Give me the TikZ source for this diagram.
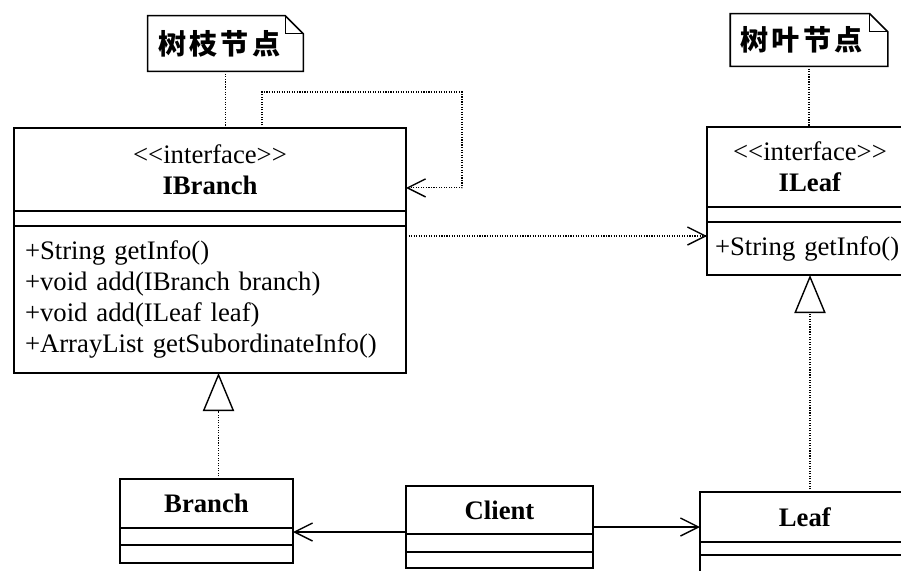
\documentclass[tikz,border=0pt]{standalone}
\usepackage{fontspec}
\setmainfont{Liberation Serif}
\newfontfamily\cjk[LetterSpace=12]{Noto Sans CJK SC}
\usetikzlibrary{
  arrows.meta,
  positioning,
  calc
}

\begin{document}
\begin{tikzpicture}[
  every node/.style={font=\fontsize{19}{22}\selectfont},
  umlhead/.style={draw, line width=1.1pt, outer sep=0pt, inner sep=0pt, align=center},
  slot/.style={draw, line width=1.1pt, outer sep=0pt, inner sep=0pt},
  methods/.style={draw, line width=1.1pt, outer sep=0pt, inner xsep=0.275cm,
                  inner ysep=0pt, align=left},
  memo/.style={inner xsep=0.25cm, align=left, font=\cjk\bfseries\fontsize{20}{22}\selectfont},
  dep/.style={densely dotted, line width=0.8pt},
  assoc/.style={line width=1pt},
  barb/.style={-{Straight Barb[length=0.45cm, width=0.45cm, line width=1pt]}},
  real/.style={densely dotted, line width=0.8pt,
               -{Triangle[length=0.95cm, width=0.78cm, fill=white, line width=1pt]}}
]

\useasboundingbox (0,0) rectangle (22.525,-14.25);
\clip (0,0) rectangle (22.525,-14.25);

% Notes
\node[memo, text width=3.375cm, minimum height=1.375cm] (noteB) at (5.6375,-1.0875) {树枝节点};
\node[memo, text width=3.425cm, minimum height=1.3cm] (noteL) at (20.225,-1.0) {树叶节点};

\foreach \n in {noteB,noteL} {
  \draw[line width=1.1pt] ($(\n.north east)+(-0.45,0)$) -- (\n.north west) -- (\n.south west)
    -- (\n.south east) -- ($(\n.north east)+(0,-0.45)$) -- cycle;
  \draw[line width=0.8pt] ($(\n.north east)+(-0.45,0)$) |- ($(\n.north east)+(0,-0.45)$);
}

% IBranch
\node[umlhead, minimum width=9.8cm, minimum height=2.075cm] (ibranchH) at (5.25,-4.2375)
  {<\kern0pt<interface>\kern0pt>\\\textbf{IBranch}};
\node[slot, minimum width=9.8cm, minimum height=0.375cm, below=0pt of ibranchH] (ibranchA) {};
\node[methods, text width=9.25cm, minimum height=3.675cm, below=0pt of ibranchA] (ibranchM)
  {+String getInfo()\\+void add(IBranch branch)\\+void add(ILeaf leaf)\\+ArrayList getSubordinateInfo()};

% ILeaf
\node[umlhead, minimum width=5.15cm, minimum height=2cm] (ileafH) at (20.25,-4.175)
  {<\kern0pt<interface>\kern0pt>\\\textbf{ILeaf}};
\node[slot, minimum width=5.15cm, minimum height=0.375cm, below=0pt of ileafH] (ileafA) {};
\node[methods, inner xsep=0.2cm, text width=4.75cm, minimum height=1.325cm, below=0pt of ileafA] (ileafM)
  {+String getInfo()};

% Branch, Client, Leaf
\node[umlhead, minimum width=4.325cm, minimum height=1.225cm] (branchH) at (5.1625,-12.5875)
  {\textbf{Branch}};
\node[slot, minimum width=4.325cm, minimum height=0.425cm, below=0pt of branchH] (branchA) {};
\node[slot, minimum width=4.325cm, minimum height=0.45cm, below=0pt of branchA] (branchM) {};

\node[umlhead, minimum width=4.675cm, minimum height=1.2cm] (clientH) at (12.4875,-12.75)
  {\textbf{Client}};
\node[slot, minimum width=4.675cm, minimum height=0.45cm, below=0pt of clientH] (clientA) {};
\node[slot, minimum width=4.675cm, minimum height=0.4cm, below=0pt of clientA] (clientM) {};

\node[umlhead, minimum width=5.25cm, minimum height=1.25cm] (leafH) at (20.125,-12.925)
  {\textbf{Leaf}};
\node[slot, minimum width=5.25cm, minimum height=0.325cm, below=0pt of leafH] (leafA) {};
\node[slot, minimum width=5.25cm, minimum height=0.5cm, below=0pt of leafA] (leafM) {};

% note links
\draw[dep] (noteB.south) -- (noteB.south |- ibranchH.north);
\draw[dep] (noteL.south) -- (noteL.south |- ileafH.north);

% dependencies
\draw[dep, barb] ([xshift=1.3cm]ibranchH.north) -- ++(0,0.9)
  -| ([xshift=1.4cm,yshift=-0.46cm]ibranchH.east) -- ([yshift=-0.46cm]ibranchH.east);
\coordinate (depS) at ([yshift=-0.25cm]ibranchM.north east);
\draw[dep, barb] (depS) -- (depS -| ileafM.west);

% realizations
\coordinate (realB) at ([xshift=0.3cm]branchH.north);
\draw[real] (realB) -- (realB |- ibranchM.south);
\draw[real] (ileafM.south |- leafH.north) -- (ileafM.south);

% associations
\coordinate (cB) at ([yshift=0.05cm]clientH.south west);
\draw[assoc, barb] (cB) -- (cB -| branchH.east);
\coordinate (cL) at ([yshift=0.175cm]clientH.south east);
\draw[assoc, barb] (cL) -- (cL -| leafH.west);

\end{tikzpicture}
\end{document}
